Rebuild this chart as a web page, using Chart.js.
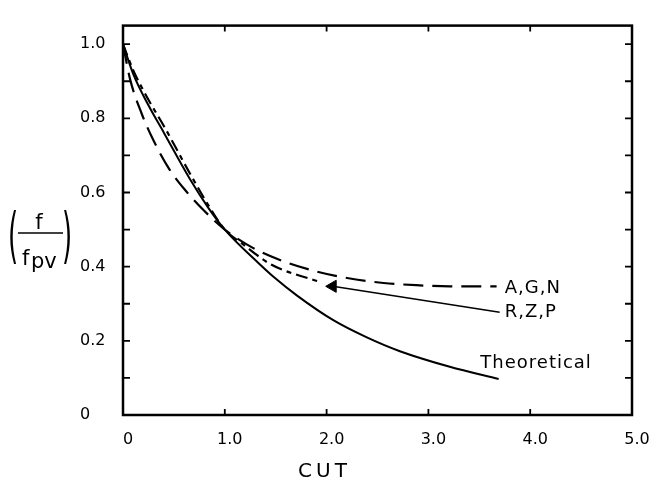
<!DOCTYPE html>
<html>
<head>
<meta charset="utf-8">
<script src="https://cdn.jsdelivr.net/npm/chart.js@4.4.1/dist/chart.umd.min.js"></script>
<style>
  html, body { margin: 0; padding: 0; background: #fff; }
  canvas { display: block; }
</style>
</head>
<body>
<canvas id="c" width="656" height="481"></canvas>
<script>
// ---- data ----
const theoryX = [0, 0.1, 0.25, 0.4, 0.66, 0.84, 1.0, 1.33, 1.49, 1.71, 2.07, 2.39, 2.72, 3.21, 3.69];
const theoryY = [1.0, 0.92, 0.835, 0.762, 0.635, 0.558, 0.5, 0.41, 0.37, 0.322, 0.255, 0.21, 0.172, 0.13, 0.097];

const agnX = [0, 0.07, 0.18, 0.3, 0.45, 0.6, 0.8, 1.0, 1.28, 1.57, 1.9, 2.23, 2.56, 2.88, 3.21, 3.67];
const agnY = [1.0, 0.905, 0.815, 0.74, 0.665, 0.61, 0.55, 0.5, 0.45, 0.415, 0.387, 0.368, 0.356, 0.35, 0.347, 0.347];

const rzpX = [0, 0.1, 0.25, 0.4, 0.66, 0.84, 1.0, 1.18, 1.46, 1.85, 1.95];
const rzpY = [1.0, 0.93, 0.85, 0.78, 0.65, 0.565, 0.5, 0.46, 0.405, 0.366, 0.358];

// leader line from R,Z,P label back to its curve (arrow at the curve end)
const leaderX = [2.06, 3.70];
const leaderY = [0.347, 0.277];

const seriesLabels = ['A,G,N', 'R,Z,P', 'Theoretical'];
const labelX = [3.75, 3.75, 3.51];
const labelY = [0.341, 0.276, 0.138];

const xTickValues = [0, 1, 2, 3, 4, 5];
const xTickLabels = ['0', '1.0', '2.0', '3.0', '4.0', '5.0'];
const yTickValues = [0, 0.2, 0.4, 0.6, 0.8, 1.0];
const yTickLabels = ['0', '0.2', '0.4', '0.6', '0.8', '1.0'];
const yMinorValues = [0.1, 0.2, 0.3, 0.4, 0.5, 0.6, 0.7, 0.8, 0.9, 1.0];
const xMinorValues = [1, 2, 3, 4];

const xTitle = 'CUT';
const yTitleNum = 'f';
const yTitleDen = 'f';
const yTitleSub = 'pv';

const pts = (xs, ys) => xs.map((x, i) => ({ x: x, y: ys[i] }));

Chart.defaults.font.family = '"DejaVu Sans", sans-serif';
Chart.defaults.color = '#000';

const framePlugin = {
  id: 'frame',
  afterDraw(chart) {
    const { ctx, chartArea: a, scales } = chart;
    const xs = scales.x, ys = scales.y;
    ctx.save();
    ctx.strokeStyle = '#000';
    ctx.fillStyle = '#000';
    ctx.lineWidth = 2.5;
    ctx.strokeRect(a.left, a.top, a.right - a.left, a.bottom - a.top);
    ctx.lineWidth = 1.8;
    ctx.beginPath();
    yMinorValues.forEach(v => {
      const py = ys.getPixelForValue(v);
      ctx.moveTo(a.left, py); ctx.lineTo(a.left + 7, py);
      ctx.moveTo(a.right, py); ctx.lineTo(a.right - 7, py);
    });
    xMinorValues.forEach(v => {
      const px = xs.getPixelForValue(v);
      ctx.moveTo(px, a.bottom); ctx.lineTo(px, a.bottom - 6);
      ctx.moveTo(px, a.top); ctx.lineTo(px, a.top + 6);
    });
    ctx.stroke();

    // series labels
    ctx.font = '18px "DejaVu Sans"';
    ctx.letterSpacing = '1px';
    ctx.textAlign = 'left';
    ctx.textBaseline = 'middle';
    seriesLabels.forEach((t, i) => {
      ctx.fillText(t, xs.getPixelForValue(labelX[i]), ys.getPixelForValue(labelY[i]));
    });

    // x title
    ctx.font = '20px "DejaVu Sans"';
    ctx.letterSpacing = '4px';
    ctx.textAlign = 'center';
    ctx.fillText(xTitle, xs.getPixelForValue(1.96) + 2, 472);
    ctx.letterSpacing = '0px';

    // y title: (f / f_pv)
    const cy = 240;
    ctx.font = '26px "DejaVu Sans"';
    ctx.textAlign = 'center';
    ctx.textBaseline = 'middle';
    ctx.save(); ctx.translate(13, cy); ctx.scale(1, 2.3); ctx.fillText('(', 0, 0); ctx.restore();
    ctx.save(); ctx.translate(67, cy); ctx.scale(1, 2.3); ctx.fillText(')', 0, 0); ctx.restore();
    ctx.lineWidth = 1.6;
    ctx.beginPath(); ctx.moveTo(18, 233); ctx.lineTo(63, 233); ctx.stroke();
    ctx.font = '21px "DejaVu Sans"';
    ctx.textBaseline = 'alphabetic';
    ctx.textAlign = 'center';
    ctx.fillText(yTitleNum, 39, 229);
    ctx.textAlign = 'left';
    ctx.fillText(yTitleDen, 22, 265);
    ctx.fillText(yTitleSub, 31, 268);
    ctx.restore();
  }
};

new Chart(document.getElementById('c'), {
  type: 'scatter',
  data: {
    datasets: [
      { label: 'Theoretical', data: pts(theoryX, theoryY), showLine: true, borderColor: '#000', borderWidth: 2,
        pointRadius: 0, cubicInterpolationMode: 'monotone' },
      { label: 'A,G,N', data: pts(agnX, agnY), showLine: true, borderColor: '#000', borderWidth: 2.2,
        borderDash: [20, 9], pointRadius: 0, cubicInterpolationMode: 'monotone' },
      { label: 'R,Z,P', data: pts(rzpX, rzpY), showLine: true, borderColor: '#000', borderWidth: 2.2,
        borderDash: [12, 5, 5, 5], pointRadius: 0, cubicInterpolationMode: 'monotone' },
      { label: 'leader', data: pts(leaderX, leaderY), showLine: true, borderColor: '#000', borderWidth: 1.5,
        pointRadius: [7, 0], pointStyle: 'triangle', rotation: 270, pointBackgroundColor: '#000',
        pointBorderColor: '#000', pointBorderWidth: 1, tension: 0 }
    ]
  },
  options: {
    responsive: false,
    animation: false,
    events: [],
    layout: { padding: { left: 80, right: 24, top: 23, bottom: 36 } },
    plugins: { legend: { display: false }, tooltip: { enabled: false } },
    scales: {
      x: {
        type: 'linear', min: 0, max: 5,
        grid: { display: false }, border: { display: false },
        afterBuildTicks: s => { s.ticks = xTickValues.map(v => ({ value: v })); },
        afterFit: s => { s.height = 30; },
        ticks: {
          padding: 7, labelOffset: 5, maxRotation: 0,
          font: { size: 16 },
          callback: (v) => xTickLabels[xTickValues.indexOf(v)]
        }
      },
      y: {
        type: 'linear', min: 0, max: 1.05,
        grid: { display: false }, border: { display: false },
        afterBuildTicks: s => { s.ticks = yTickValues.map(v => ({ value: v })); },
        afterFit: s => { s.width = 43; },
        ticks: {
          padding: 16, crossAlign: 'far',
          font: { size: 16 },
          callback: (v) => yTickLabels[yTickValues.indexOf(v)]
        }
      }
    }
  },
  plugins: [framePlugin]
});
</script>
</body>
</html>
